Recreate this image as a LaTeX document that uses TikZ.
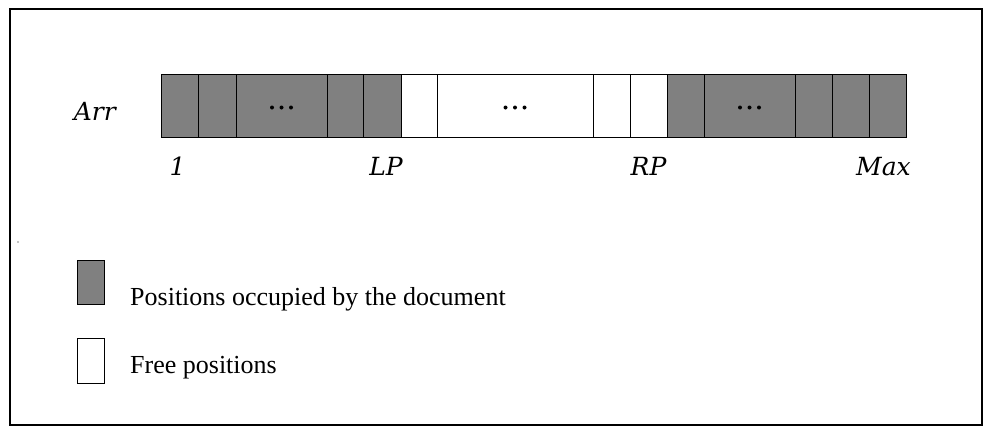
\documentclass[tikz,border=0pt]{standalone}
\usepackage{fontspec}
\newfontfamily\legendfont{Liberation Serif}
\newfontfamily\labelfont{DejaVu Serif}
\begin{document}
\begin{tikzpicture}[x=1pt,y=-1pt,
  cell/.style={draw=black,line width=0.9pt,inner sep=0pt,minimum height=63pt},
  used/.style={cell,fill=black!50},
  free/.style={cell,fill=white},
  idx/.style={font=\labelfont\itshape\fontsize{25}{29}\selectfont,inner sep=0pt,anchor=base},
  legtext/.style={font=\legendfont\fontsize{26}{30}\selectfont,inner sep=0pt,anchor=base west}]
  \useasboundingbox (0,0) rectangle (984,426);
  % outer frame
  \draw[line width=2pt] (10,9) rectangle (982,425);
  \fill (18,242) circle (0.6pt);

  % array cells, left to right
  \node[used,minimum width=37pt] (c1)  at (179.5,105.5) {};
  \node[used,minimum width=38pt] (c2)  at (217,105.5) {};
  \node[used,minimum width=91pt] (c3)  at (281.5,105.5) {};
  \node[used,minimum width=36pt] (c4)  at (345,105.5) {};
  \node[used,minimum width=38pt] (c5)  at (382,105.5) {};
  \node[free,minimum width=36pt] (c6)  at (419,105.5) {};
  \node[free,minimum width=156pt] (c7) at (515,105.5) {};
  \node[free,minimum width=37pt] (c8)  at (611.5,105.5) {};
  \node[free,minimum width=37pt] (c9)  at (648.5,105.5) {};
  \node[used,minimum width=37pt] (c10) at (685.5,105.5) {};
  \node[used,minimum width=91pt] (c11) at (749.5,105.5) {};
  \node[used,minimum width=37pt] (c12) at (813.5,105.5) {};
  \node[used,minimum width=37pt] (c13) at (850.5,105.5) {};
  \node[used,minimum width=37pt] (c14) at (887.5,105.5) {};

  % three-dot ellipsis inside each wide cell
  \foreach \c in {c3,c7,c11}{
    \foreach \dx in {-9.5,0,9.5}{
      \fill ([xshift=\dx pt,yshift=-2pt]\c.center) circle (2pt);
    }
  }

  % array name and index labels
  \node[idx,anchor=base east] (arr) at (116,120) {Arr};
  \node[idx] (one) at ([xshift=-2pt]c1.center |- 0,175) {1};
  \node[idx] (lp)  at ([xshift=4pt]c5.center |- 0,175) {LP};
  \node[idx] (rp)  at (c9.center |- 0,175) {RP};
  \node[idx] (mx)  at ([xshift=-4pt]c14.center |- 0,175) {Max};

  % legend
  \node[used,minimum width=27pt,minimum height=44pt] (lg1) at (90.5,282) {};
  \node[free,minimum width=27pt,minimum height=45pt] (lg2) at (90.5,360.5) {};
  \node[legtext] (t1) at (130,305) {Positions occupied by the document};
  \node[legtext] (t2) at (130,373) {Free positions};
\end{tikzpicture}
\end{document}
